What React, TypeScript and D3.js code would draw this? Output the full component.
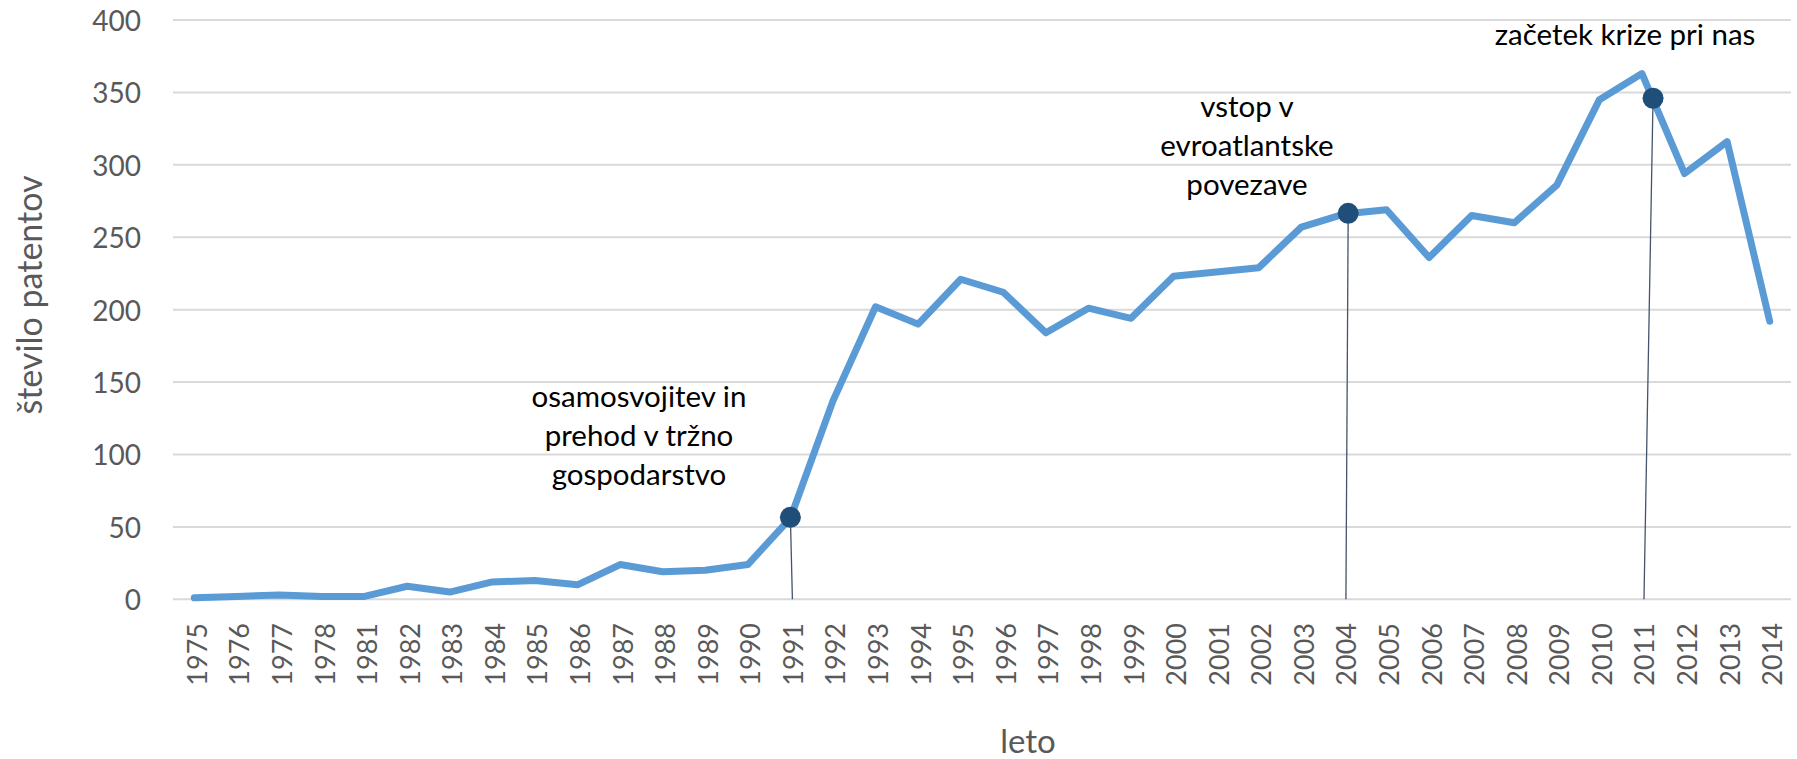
import React from "react";
import * as d3 from "d3";

const years: string[] = [
  "1975", "1976", "1977", "1978", "1981", "1982", "1983", "1984", "1985", "1986",
  "1987", "1988", "1989", "1990", "1991", "1992", "1993", "1994", "1995", "1996",
  "1997", "1998", "1999", "2000", "2001", "2002", "2003", "2004", "2005", "2006",
  "2007", "2008", "2009", "2010", "2011", "2012", "2013", "2014",
];

const patents: number[] = [
  1, 2, 3, 2, 2, 9, 5, 12, 13, 10,
  24, 19, 20, 24, 56, 137, 202, 190, 221, 212,
  184, 201, 194, 223, 226, 229, 257, 266, 269, 236,
  265, 260, 286, 345, 363, 294, 316, 192,
];

const yTicks: number[] = [0, 50, 100, 150, 200, 250, 300, 350, 400];

// event markers: year, offset within the band (fraction of step), value
const eventYears: string[] = ["1991", "2004", "2011"];
const eventShift: number[] = [0, 0.1, 0.26];
const eventValues: number[] = [56.6, 266.5, 346];
const eventLabels: string[][] = [
  ["osamosvojitev in", "prehod v tržno", "gospodarstvo"],
  ["vstop v", "evroatlantske", "povezave"],
  ["začetek krize pri nas"],
];
const eventLabelX: number[] = [639, 1247, 1625];
const eventLabelTop: number[] = [407, 117, 45];

const W = 1797;
const H = 759;
const FONT = "Lato, 'Open Sans', sans-serif";

export default function App() {
  const x = d3.scaleBand<string>().domain(years).range([173, 1791]).padding(0);
  const y = d3.scaleLinear().domain([0, 400]).range([599.3, 20]);
  const bw = x.bandwidth();
  const cx = (yr: string) => (x(yr) as number) + bw / 2;

  const line = d3
    .line<number>()
    .x((_, i) => cx(years[i]))
    .y((d) => y(d));

  const lineHeight = 39;

  return (
    <div style={{ position: "absolute", left: 0, top: 0, width: W, height: H, background: "#fff" }}>
      <svg width={W} height={H} style={{ display: "block", fontFamily: FONT }}>
        <rect x={0} y={0} width={W} height={H} fill="#fff" />
        {/* gridlines */}
        {yTicks.map((t) => (
          <line key={"g" + t} x1={173} x2={1791} y1={y(t)} y2={y(t)} stroke="#D9D9D9" strokeWidth={2} />
        ))}
        {/* y tick labels */}
        {yTicks.map((t) => (
          <text
            key={"yl" + t}
            x={141}
            y={y(t)}
            textAnchor="end"
            dominantBaseline="central"
            fontSize={28}
            fill="#595959"
          >
            {t}
          </text>
        ))}
        {/* x tick labels */}
        {years.map((yr) => (
          <text
            key={"xl" + yr}
            transform={`translate(${cx(yr) + 2},623) rotate(-90)`}
            textAnchor="end"
            dominantBaseline="central"
            fontSize={27}
            fill="#595959"
          >
            {yr}
          </text>
        ))}
        {/* axis titles */}
        <text x={1028} y={753} textAnchor="middle" fontSize={33} fill="#595959">
          leto
        </text>
        <text
          transform={`translate(28,295) rotate(-90)`}
          textAnchor="middle"
          dominantBaseline="central"
          fontSize={34}
          fill="#595959"
        >
          število patentov
        </text>
        {/* data line */}
        <path d={line(patents) || ""} fill="none" stroke="#5B9BD5" strokeWidth={7} strokeLinejoin="round" strokeLinecap="round" />
        {/* event leader lines and markers */}
        {eventYears.map((yr, i) => {
          const mx = cx(yr) + eventShift[i] * bw;
          const my = y(eventValues[i]);
          return (
            <g key={"ev" + yr}>
              <line x1={mx} y1={my} x2={cx(yr) + 2} y2={y(0)} stroke="#44546A" strokeWidth={1.3} />
              <circle cx={mx} cy={my} r={10.5} fill="#1F4E79" />
            </g>
          );
        })}
        {/* event labels */}
        {eventLabels.map((lines, i) => (
          <text key={"el" + i} x={eventLabelX[i]} y={eventLabelTop[i]} textAnchor="middle" fontSize={29.5} fill="#000">
            {lines.map((l, j) => (
              <tspan key={j} x={eventLabelX[i]} dy={j === 0 ? 0 : lineHeight}>
                {l}
              </tspan>
            ))}
          </text>
        ))}
      </svg>
    </div>
  );
}
